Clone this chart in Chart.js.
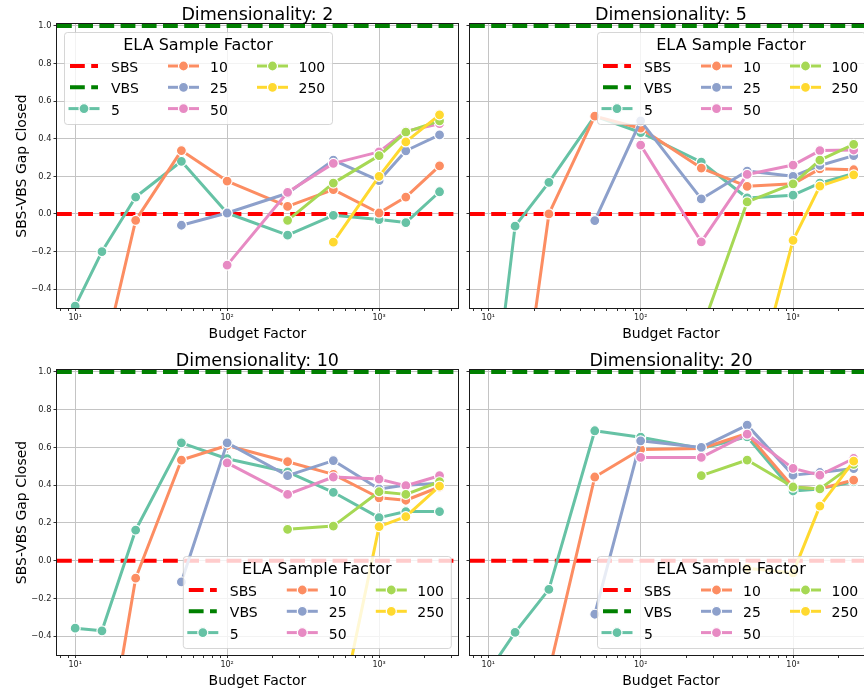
<!DOCTYPE html>
<html>
<head>
<meta charset="utf-8">
<script src="https://cdn.jsdelivr.net/npm/chart.js@4.4.1/dist/chart.umd.min.js"></script>
<style>
  html, body { margin: 0; padding: 0; background: #fff; overflow: hidden; width: 864px; height: 691px; }
  canvas { position: absolute; }
</style>
</head>
<body>
<canvas id="p0"></canvas>
<canvas id="p1"></canvas>
<canvas id="p2"></canvas>
<canvas id="p3"></canvas>
<script>
// budget factors on the x axis
const budgets = [10, 15, 25, 50, 100, 250, 500, 1000, 1500, 2500];
const factorLabels = ["5", "10", "25", "50", "100", "250"];
const factorColors = ["#66c2a5", "#fc8d62", "#8da0cb", "#e78ac3", "#a6d854", "#ffd92f"];
const dims = [2, 5, 10, 20];
const sbsLevel = [0, 0];
const vbsLevel = [1, 1];
const xLimits = [7.59, 3297];
const yLimits = [-0.5, 1.01];
const yTicks = [-0.4, -0.2, 0, 0.2, 0.4, 0.6, 0.8, 1.0];
const xMajor = [10, 100, 1000];
const xMajorLabels = ["10\u00b9", "10\u00b2", "10\u00b3"];

// SBS-VBS gap closed, one row per sample factor (same order as factorLabels)
const gapDim2 = [
  [-0.49, -0.20, 0.09, 0.28, 0.005, -0.113, -0.007, -0.03, -0.046, 0.118],
  [null, -0.80, -0.034, 0.337, 0.175, 0.04, 0.129, 0.005, 0.09, 0.256],
  [null, null, null, -0.06, 0.005, 0.11, 0.286, 0.177, 0.336, 0.42],
  [null, null, null, null, -0.272, 0.115, 0.269, 0.33, 0.44, 0.48],
  [null, null, null, null, null, -0.034, 0.164, 0.31, 0.435, 0.495],
  [null, null, null, null, null, null, -0.15, 0.20, 0.383, 0.527]
];
const gapDim5 = [
  [-1.25, -0.065, 0.168, 0.52, 0.433, 0.276, 0.085, 0.10, 0.164, 0.215],
  [null, -1.30, 0.0, 0.52, 0.456, 0.244, 0.147, 0.16, 0.24, 0.235],
  [null, null, null, -0.035, 0.495, 0.08, 0.228, 0.20, 0.258, 0.31],
  [null, null, null, null, 0.366, -0.148, 0.21, 0.26, 0.337, 0.34],
  [null, null, null, null, null, -0.62, 0.064, 0.16, 0.286, 0.37],
  [null, null, null, null, null, null, -1.06, -0.14, 0.148, 0.208]
];
const gapDim10 = [
  [-0.358, -0.372, 0.162, 0.624, 0.54, 0.47, 0.362, 0.228, 0.26, 0.26],
  [null, -1.15, -0.093, 0.533, 0.61, 0.524, 0.457, 0.333, 0.32, 0.39],
  [null, null, null, -0.113, 0.624, 0.45, 0.53, 0.38, 0.40, 0.41],
  [null, null, null, null, 0.518, 0.351, 0.443, 0.432, 0.397, 0.45],
  [null, null, null, null, null, 0.166, 0.183, 0.365, 0.351, 0.418],
  [null, null, null, null, null, null, -0.98, 0.18, 0.233, 0.395]
];
const gapDim20 = [
  [-0.59, -0.38, -0.152, 0.688, 0.654, 0.594, 0.656, 0.369, 0.38, 0.418],
  [null, null, -0.59, 0.443, 0.589, 0.594, 0.674, 0.39, 0.38, 0.427],
  [null, null, null, -0.284, 0.635, 0.60, 0.718, 0.453, 0.467, 0.488],
  [null, null, null, null, 0.547, 0.547, 0.67, 0.489, 0.453, 0.541],
  [null, null, null, null, null, 0.45, 0.533, 0.39, 0.38, 0.51],
  [null, null, null, null, null, null, -0.04, -0.065, 0.289, 0.527]
];
const gapByDim = [gapDim2, gapDim5, gapDim10, gapDim20];
const legendSpots = ["upper left", "upper right", "lower right", "lower right"];

// where each panel sits on the page
const frames = [
  { left: 0,   top: 0,   width: 464, height: 345, padTop: 24, padRight: 5, yWidth: 57, xHeight: 37, yLabels: true },
  { left: 460, top: 0,   width: 420, height: 345, padTop: 24, padRight: 8, yWidth: 10, xHeight: 37, yLabels: false },
  { left: 0,   top: 345, width: 464, height: 346, padTop: 25, padRight: 5, yWidth: 57, xHeight: 36, yLabels: true },
  { left: 460, top: 345, width: 420, height: 346, padTop: 25, padRight: 8, yWidth: 10, xHeight: 36, yLabels: false }
];

const FONT = "'DejaVu Sans', 'Liberation Sans', sans-serif";

const xTickValues = [];
for (let e = 0; e <= 3; e++) {
  for (let m = 1; m <= 9; m++) {
    const v = m * Math.pow(10, e);
    if (v >= xLimits[0] && v <= xLimits[1]) xTickValues.push(v);
  }
}

function toPoints(vals) {
  return budgets.map((b, i) => ({ x: b, y: vals[i] })).filter(p => p.y !== null);
}

function drawLegend(chart, where) {
  const { ctx, chartArea: a } = chart;
  const w = 268, h = 92, pad = 7;
  const x0 = where === "upper left" ? a.left + pad : a.right - pad - w;
  const y0 = where === "lower right" ? a.bottom - pad - h : a.top + pad + 1;

  ctx.save();
  ctx.beginPath();
  ctx.roundRect(x0 + 0.5, y0 + 0.5, w, h, 3);
  ctx.fillStyle = "rgba(255,255,255,0.8)";
  ctx.fill();
  ctx.strokeStyle = "rgba(204,204,204,0.8)";
  ctx.lineWidth = 1;
  ctx.stroke();

  ctx.fillStyle = "#000";
  ctx.font = "16px " + FONT;
  ctx.textAlign = "center";
  ctx.textBaseline = "alphabetic";
  ctx.fillText("ELA Sample Factor", x0 + w / 2, y0 + 18);

  const colCenter = [20, 119.5, 208.5];
  const colText = [47, 146, 234.5];
  chart.data.datasets.forEach((ds, i) => {
    const col = Math.floor(i / 3), row = i % 3;
    const hy = y0 + 34 + row * 21.3;
    const hx = x0 + colCenter[col];
    ctx.save();
    ctx.strokeStyle = ds.borderColor;
    ctx.lineWidth = ds.borderWidth;
    ctx.lineCap = "butt";
    if (ds.borderDash) {
      ctx.setLineDash(ds.borderDash);
      ctx.beginPath(); ctx.moveTo(hx - 14, hy); ctx.lineTo(hx + 14, hy); ctx.stroke();
    } else {
      ctx.beginPath(); ctx.moveTo(hx - 15.5, hy); ctx.lineTo(hx + 15.5, hy); ctx.stroke();
      ctx.beginPath(); ctx.arc(hx, hy, ds.pointRadius, 0, Math.PI * 2);
      ctx.fillStyle = ds.pointBackgroundColor; ctx.fill();
      ctx.strokeStyle = "#fff"; ctx.lineWidth = ds.pointBorderWidth; ctx.stroke();
    }
    ctx.restore();
    ctx.fillStyle = "#000";
    ctx.font = "14px " + FONT;
    ctx.textAlign = "left";
    ctx.fillText(ds.label, x0 + colText[col], hy + 5.9);
  });
  ctx.restore();
}

const decor = {
  id: "decor",
  afterDraw(chart, args, opts) {
    const { ctx, chartArea: a } = chart;
    ctx.save();
    ctx.strokeStyle = "#1a1a1a";
    ctx.lineWidth = 1;
    ctx.strokeRect(Math.round(a.left) - 0.5, Math.round(a.top) - 0.5,
                   Math.round(a.right - a.left) + 1, Math.round(a.bottom - a.top) + 1);

    const cx = (a.left + a.right) / 2;
    ctx.fillStyle = "#000";
    ctx.textAlign = "center";
    ctx.textBaseline = "alphabetic";
    ctx.font = "17.5px " + FONT;
    ctx.fillText(opts.title, cx, a.top - 4.5);
    ctx.font = "14px " + FONT;
    ctx.fillText("Budget Factor", cx, a.bottom + 29.5);
    if (opts.yTitle) {
      ctx.save();
      ctx.translate(25.5, (a.top + a.bottom) / 2);
      ctx.rotate(-Math.PI / 2);
      ctx.fillText("SBS-VBS Gap Closed", 0, 0);
      ctx.restore();
    }
    drawLegend(chart, opts.legend);
    ctx.restore();
  }
};

function buildChart(k) {
  const f = frames[k];
  const canvas = document.getElementById("p" + k);
  canvas.width = f.width;
  canvas.height = f.height;
  canvas.style.left = f.left + "px";
  canvas.style.top = f.top + "px";

  const datasets = [
    { label: "SBS", data: [{ x: xLimits[0], y: sbsLevel[0] }, { x: xLimits[1], y: sbsLevel[1] }],
      borderColor: "#ff0000", borderWidth: 4, borderDash: [14.8, 6.4], pointRadius: 0, order: 8, clip: 0 },
    { label: "VBS", data: [{ x: xLimits[0], y: vbsLevel[0] }, { x: xLimits[1], y: vbsLevel[1] }],
      borderColor: "#008000", borderWidth: 4, borderDash: [14.8, 6.4], pointRadius: 0, order: 7, clip: 0 }
  ];
  gapByDim[k].forEach((vals, i) => {
    datasets.push({
      label: factorLabels[i],
      data: toPoints(vals),
      borderColor: factorColors[i],
      backgroundColor: factorColors[i],
      pointBackgroundColor: factorColors[i],
      pointBorderColor: "#ffffff",
      pointBorderWidth: 1.2,
      pointRadius: 5,
      borderWidth: 3,
      borderJoinStyle: "round",
      borderCapStyle: "round",
      order: 6 - i,
      clip: 0
    });
  });

  return new Chart(canvas, {
    type: "line",
    data: { datasets },
    options: {
      responsive: false,
      animation: false,
      events: [],
      layout: { padding: { top: f.padTop, right: f.padRight, left: 0, bottom: 0 } },
      plugins: {
        legend: { display: false },
        tooltip: { enabled: false },
        decor: { title: "Dimensionality: " + dims[k], yTitle: f.yLabels, legend: legendSpots[k] }
      },
      scales: {
        x: {
          type: "logarithmic",
          min: xLimits[0],
          max: xLimits[1],
          afterFit: s => { s.height = f.xHeight; },
          afterBuildTicks: s => { s.ticks = xTickValues.map(v => ({ value: v })); },
          border: { display: false },
          grid: {
            color: c => (c.tick && xMajor.includes(c.tick.value)) ? "#c4c4c4" : "rgba(0,0,0,0)",
            lineWidth: 1,
            tickColor: "#333",
            tickLength: 3,
            drawTicks: true
          },
          ticks: {
            autoSkip: false,
            maxRotation: 0,
            padding: 2,
            color: "#222",
            font: { family: FONT, size: 8 },
            callback: v => {
              const j = xMajor.indexOf(v);
              return j >= 0 ? xMajorLabels[j] : "";
            }
          }
        },
        y: {
          min: yLimits[0],
          max: yLimits[1],
          afterFit: s => { s.width = f.yWidth; },
          afterBuildTicks: s => { s.ticks = yTicks.map(v => ({ value: v })); },
          border: { display: false },
          grid: { color: "#c4c4c4", lineWidth: 1, tickColor: "#333", tickLength: 3.5 },
          ticks: {
            padding: 2,
            color: "#222",
            font: { family: FONT, size: 8.3 },
            callback: v => f.yLabels ? v.toFixed(1).replace("-", "\u2212") : ""
          }
        }
      }
    },
    plugins: [decor]
  });
}

[0, 1, 2, 3].forEach(buildChart);
</script>
</body>
</html>
